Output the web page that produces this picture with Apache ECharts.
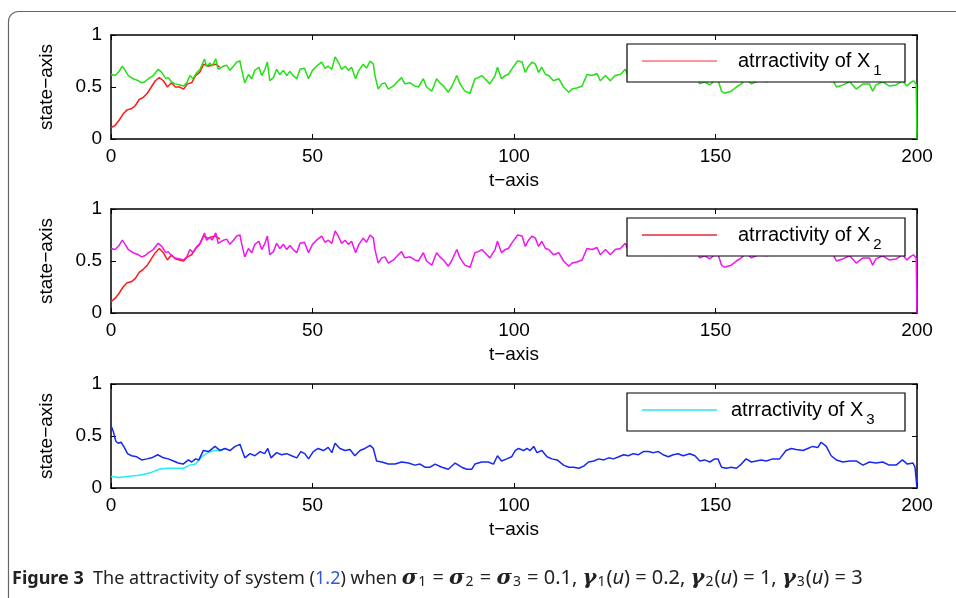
<!DOCTYPE html>
<html>
<head>
<meta charset="utf-8">
<script src="https://cdn.jsdelivr.net/npm/echarts@6/dist/echarts.min.js"></script>
<style>
html, body { margin: 0; padding: 0; background: #fff; }
#chart { width: 956px; height: 598px; }
</style>
</head>
<body>
<div id="chart"></div>
<script>
// axis ticks
var tTicks = [0, 50, 100, 150, 200];
var stateTicks = [0, 0.5, 1];

// red curve, panel 1 (t, state)
var red1 = [
  [0, 0.11], [1, 0.13], [2, 0.18], [3, 0.24], [4, 0.28], [5, 0.29], [6, 0.32], [7, 0.38],
  [8, 0.40], [9, 0.44], [10, 0.50], [11, 0.56], [12, 0.59], [13, 0.56], [14, 0.50], [15, 0.54],
  [16, 0.50], [17, 0.50], [18, 0.48], [19, 0.53], [20, 0.54], [21, 0.61], [22, 0.64], [23, 0.72],
  [24, 0.70], [25, 0.71], [26, 0.72], [27, 0.69]
];

// green curve, panel 1 (the same path is drawn in magenta in panel 2)
var green1 = [
  [0, 0.62], [1, 0.61], [2, 0.65], [2.8, 0.70], [3.5, 0.66], [4.3, 0.61], [5.5, 0.58], [6.8, 0.56],
  [7.6, 0.54], [8.4, 0.55], [9.3, 0.58], [10.5, 0.61], [11.7, 0.67], [12.6, 0.64], [13.6, 0.58],
  [14.2, 0.59], [15, 0.55], [15.9, 0.53], [17.1, 0.52], [18, 0.51], [18.8, 0.54], [19.6, 0.61],
  [20.4, 0.58], [21.3, 0.64], [22.1, 0.67], [23.2, 0.77], [23.7, 0.70], [24.6, 0.73], [25.1, 0.70],
  [26, 0.77], [26.6, 0.67], [27.9, 0.70], [28.7, 0.71], [29.5, 0.66], [30.4, 0.70], [31.2, 0.74],
  [32, 0.75], [32.4, 0.67], [33.2, 0.54], [34.1, 0.62], [34.9, 0.58], [35.7, 0.66], [36.7, 0.69],
  [37.4, 0.61], [38.2, 0.67], [38.8, 0.74], [39.4, 0.56], [40.3, 0.59], [41.1, 0.67], [41.9, 0.62],
  [42.8, 0.66], [43.6, 0.61], [44.4, 0.65], [45.2, 0.61], [46.1, 0.58], [46.9, 0.67], [48, 0.68],
  [49, 0.58], [50, 0.66], [51, 0.70], [52.3, 0.74], [53.1, 0.68], [53.9, 0.70], [54.8, 0.67],
  [55.6, 0.79], [56.4, 0.74], [57.2, 0.67], [58.1, 0.70], [58.9, 0.66], [59.7, 0.69], [60.7, 0.58],
  [61.5, 0.66], [62.6, 0.72], [63.4, 0.68], [64.3, 0.75], [65.1, 0.72], [65.5, 0.61], [66.3, 0.48],
  [67.2, 0.53], [68, 0.54], [68.8, 0.48], [70.1, 0.51], [71.3, 0.56], [72.1, 0.59], [72.9, 0.53],
  [74.2, 0.54], [75.4, 0.51], [76.3, 0.50], [77.5, 0.58], [78.3, 0.50], [79.6, 0.46], [80.8, 0.58],
  [81.6, 0.54], [82.5, 0.51], [83.7, 0.45], [84.5, 0.50], [85.8, 0.61], [86.6, 0.53], [87.8, 0.46],
  [89.1, 0.44], [90.3, 0.58], [91.1, 0.59], [92, 0.61], [92.8, 0.58], [94, 0.53], [95.3, 0.61],
  [95.9, 0.69], [96.9, 0.58], [97.8, 0.61], [98.6, 0.62], [99.4, 0.67], [100.9, 0.75], [102, 0.74],
  [102.8, 0.64], [103.6, 0.70], [104.5, 0.74], [105.3, 0.72], [106.1, 0.64], [106.9, 0.69],
  [107.8, 0.62], [108.6, 0.61], [109.8, 0.56], [111.1, 0.58], [112.3, 0.50], [113.6, 0.45],
  [114.4, 0.48], [115.6, 0.49], [116.9, 0.51], [118.1, 0.62], [119.4, 0.61], [120.6, 0.63],
  [121.4, 0.56], [122.7, 0.61], [123.9, 0.56], [125.1, 0.61], [126.4, 0.62], [127.6, 0.67],
  [128.4, 0.60], [129.6, 0.64], [130.9, 0.62], [132.1, 0.66], [133.3, 0.66], [134.6, 0.65],
  [135.8, 0.66], [137, 0.62], [138.3, 0.59], [138.8, 0.55], [139.5, 0.62], [140.7, 0.64],
  [142, 0.61], [143.6, 0.64], [144.9, 0.61], [146.1, 0.53], [147.3, 0.55], [148.6, 0.52],
  [149.8, 0.56], [150.6, 0.57], [151.5, 0.46], [152.2, 0.44], [153.9, 0.46], [155.2, 0.50],
  [156.4, 0.53], [157.6, 0.58], [158.9, 0.53], [160.1, 0.55], [161.3, 0.56], [162.6, 0.55],
  [164.2, 0.56], [165.9, 0.57], [167.5, 0.68], [168.8, 0.71], [170, 0.70], [171.7, 0.68],
  [172.9, 0.71], [174.1, 0.74], [175.4, 0.72], [176.2, 0.80], [177.5, 0.74], [178.7, 0.60],
  [180, 0.50], [181.6, 0.52], [183.3, 0.55], [184.9, 0.48], [186.6, 0.53], [188.2, 0.53],
  [189, 0.46], [189.8, 0.52], [191.5, 0.55], [193.1, 0.51], [194.8, 0.52], [196.4, 0.56],
  [197.5, 0.51], [198.3, 0.54], [199.1, 0.56], [199.8, 0.53], [200, 0]
];

// red curve, panel 2
var red2 = [
  [0, 0.11], [1, 0.14], [2, 0.19], [3, 0.25], [4, 0.29], [5, 0.30], [6, 0.33], [7, 0.39],
  [8, 0.42], [9, 0.46], [10, 0.52], [11, 0.58], [12, 0.62], [13, 0.58], [14, 0.51], [15, 0.56],
  [16, 0.52], [17, 0.51], [18, 0.50], [19, 0.54], [20, 0.56], [21, 0.62], [22, 0.66], [23, 0.74],
  [24, 0.72], [25, 0.73], [26, 0.74], [27, 0.71]
];

// magenta curve, panel 2: traces the same path as the green one
var magenta2 = green1;

// cyan curve, panel 3
var cyan3 = [
  [0, 0.11], [2, 0.10], [4, 0.11], [6.5, 0.12], [8, 0.13], [10, 0.15], [12, 0.18], [14, 0.19],
  [16, 0.19], [18, 0.19], [19.5, 0.22], [21, 0.23], [22.5, 0.30], [24, 0.34], [25.5, 0.36],
  [27, 0.36], [28.3, 0.38]
];

// blue curve, panel 3
var blue3 = [
  [0, 0.60], [0.6, 0.54], [1.2, 0.45], [1.8, 0.43], [2.5, 0.44], [3.3, 0.39], [4.1, 0.33],
  [5.1, 0.31], [6.4, 0.30], [7.6, 0.27], [8.9, 0.28], [10.1, 0.29], [11.6, 0.32], [13, 0.29],
  [14.2, 0.28], [15.5, 0.26], [16.7, 0.24], [17.9, 0.23], [19.2, 0.27], [20, 0.25], [21, 0.28],
  [21.8, 0.27], [22.9, 0.36], [24.2, 0.35], [25.8, 0.40], [27.1, 0.36], [28.3, 0.38], [29.5, 0.36],
  [30.8, 0.40], [32, 0.42], [33.2, 0.29], [34.5, 0.33], [35.7, 0.31], [37, 0.35], [38.1, 0.33],
  [38.9, 0.38], [39.7, 0.29], [41.1, 0.34], [42.3, 0.32], [43.6, 0.33], [44.8, 0.31], [46.1, 0.29],
  [47.1, 0.35], [48.1, 0.33], [49, 0.28], [50.2, 0.35], [51.4, 0.38], [52.7, 0.36], [53.9, 0.39],
  [54.8, 0.34], [55.6, 0.43], [56.8, 0.38], [58.1, 0.36], [59.3, 0.37], [60.5, 0.31], [61.8, 0.36],
  [63, 0.38], [64.3, 0.41], [65.1, 0.38], [65.9, 0.26], [67.2, 0.25], [68.8, 0.23], [70.5, 0.23],
  [72.1, 0.25], [73.8, 0.24], [75.4, 0.22], [76.7, 0.23], [77.9, 0.20], [79.2, 0.20], [80.4, 0.23],
  [82.1, 0.20], [83.7, 0.18], [85.4, 0.24], [87, 0.20], [88.3, 0.18], [89.5, 0.18], [90.3, 0.23],
  [92, 0.25], [93.6, 0.25], [94.9, 0.23], [95.9, 0.31], [96.9, 0.26], [98.2, 0.28], [99.4, 0.30],
  [100.3, 0.36], [101.1, 0.38], [102.4, 0.36], [103.2, 0.38], [104, 0.36], [104.9, 0.40],
  [105.7, 0.34], [106.9, 0.36], [108.2, 0.30], [109.4, 0.28], [110.7, 0.27], [112.3, 0.22],
  [113.6, 0.20], [114.8, 0.20], [116.1, 0.19], [117.3, 0.21], [118.5, 0.25], [119.8, 0.26],
  [121, 0.28], [122.3, 0.27], [123.5, 0.29], [124.7, 0.28], [126, 0.30], [127.2, 0.32],
  [128.4, 0.31], [129.6, 0.33], [130.9, 0.32], [132.1, 0.35], [133.3, 0.35], [134.6, 0.34],
  [135.8, 0.35], [137, 0.32], [138.3, 0.30], [139.5, 0.32], [140.7, 0.33], [142, 0.31],
  [143.6, 0.33], [144.9, 0.31], [146.1, 0.26], [147.3, 0.27], [148.6, 0.25], [149.8, 0.28],
  [150.6, 0.28], [151.5, 0.20], [152.7, 0.19], [153.9, 0.20], [155.2, 0.19], [156.4, 0.23],
  [157.6, 0.28], [158.9, 0.25], [160.1, 0.26], [161.3, 0.27], [162.6, 0.26], [164.2, 0.28],
  [165.9, 0.28], [167.5, 0.36], [168.8, 0.38], [170, 0.37], [171.7, 0.36], [172.9, 0.38],
  [174.1, 0.40], [175.4, 0.39], [176.2, 0.44], [177.5, 0.40], [178.7, 0.31], [180, 0.27],
  [181.6, 0.25], [183.3, 0.26], [184.9, 0.26], [186.6, 0.22], [188.2, 0.25], [189.8, 0.24],
  [191.5, 0.25], [193.1, 0.22], [194.8, 0.22], [196.4, 0.27], [197.6, 0.23], [199, 0.24],
  [199.5, 0.20], [200, 0]
];

var chart = echarts.init(document.getElementById('chart'), null, { renderer: 'canvas' });

var FONT = '"Liberation Sans", Arial, sans-serif';
var CAP_FONT = '"Noto Sans", sans-serif';
var panelTops = [35, 209, 384];
var PLOT_LEFT = 111, PLOT_W = 806, PLOT_H = 104;

var grids = [], xAxes = [], yAxes = [], legends = [], graphics = [];

panelTops.forEach(function (top, i) {
  grids.push({ left: PLOT_LEFT, top: top, width: PLOT_W, height: PLOT_H });

  // bottom axis with labels, top axis only for the inner ticks
  ['bottom', 'top'].forEach(function (pos) {
    xAxes.push({
      gridIndex: i,
      type: 'value',
      position: pos,
      min: tTicks[0],
      max: tTicks[tTicks.length - 1],
      interval: 50,
      name: pos === 'bottom' ? 't\u2212axis' : '',
      nameLocation: 'middle',
      nameGap: 32,
      nameTextStyle: { color: '#000', fontSize: 19, fontFamily: FONT },
      axisLine: { show: true, onZero: false, lineStyle: { color: '#000', width: 1.5 } },
      axisTick: { show: true, inside: true, length: 5, lineStyle: { color: '#000', width: 1 } },
      axisLabel: { show: pos === 'bottom', color: '#000', fontSize: 19, fontFamily: FONT, margin: 8 },
      splitLine: { show: false }
    });
  });

  ['left', 'right'].forEach(function (pos) {
    yAxes.push({
      gridIndex: i,
      type: 'value',
      position: pos,
      min: stateTicks[0],
      max: stateTicks[stateTicks.length - 1],
      interval: 0.5,
      name: pos === 'left' ? 'state\u2212axis' : '',
      nameLocation: 'middle',
      nameGap: 55,
      nameRotate: 90,
      nameTextStyle: { color: '#000', fontSize: 19, fontFamily: FONT },
      axisLine: { show: true, onZero: false, lineStyle: { color: '#000', width: 1.5 } },
      axisTick: { show: true, inside: true, length: 5, lineStyle: { color: '#000', width: 1 } },
      axisLabel: { show: pos === 'left', color: '#000', fontSize: 19, fontFamily: FONT, margin: 9 },
      splitLine: { show: false }
    });
  });

  // legend box (white, covers the curves like the original)
  graphics.push({
    type: 'rect',
    zlevel: 1,
    shape: { x: 627, y: top + 9, width: 278, height: 38 },
    style: { fill: '#fff', stroke: '#000', lineWidth: 1.2 }
  });
});

var legendColors = ['#f47474', '#e8283c', '#22e6f2'];
var legendTextGap = [16, 16, 9];
['X1', 'X2', 'X3'].forEach(function (name, i) {
  legends.push({
    zlevel: 2,
    left: 642,
    top: panelTops[i] + 16,
    padding: 0,
    icon: 'rect',
    itemWidth: 75,
    itemHeight: 1.5,
    data: [{ name: name, itemStyle: { color: legendColors[i] } }],
    formatter: function (n) { return '{a|atrractivity of X}{s|' + n.slice(1) + '}'; },
    textStyle: {
      color: '#000',
      fontFamily: FONT,
      rich: {
        a: { fontSize: 20, color: '#000', fontFamily: FONT, padding: [0, 0, 0, legendTextGap[i]] },
        s: { fontSize: 15, color: '#000', fontFamily: FONT, padding: [20, 0, 0, 3] }
      }
    },
    selectedMode: false
  });
});

function line(name, data, color, idx) {
  return {
    name: name,
    type: 'line',
    xAxisIndex: idx * 2,
    yAxisIndex: idx * 2,
    data: data,
    symbol: 'none',
    lineStyle: { color: color, width: 1.5 },
    itemStyle: { color: color },
    animation: false
  };
}

// frame around the figure
graphics.push({
  type: 'rect',
  zlevel: 1,
  shape: { x: 8.5, y: 11.5, width: 1200, height: 900, r: 10 },
  style: { fill: 'none', stroke: '#666', lineWidth: 1.2 }
});

// caption
graphics.push({
  type: 'text',
  zlevel: 1,
  left: 12,
  top: 568,
  style: {
    text: '{b|Figure 3}  The attractivity of system ({l|1.2}) when {g|\u03c3}{sub|1}{m| = }{g|\u03c3}{sub|2}{m| = }{g|\u03c3}{sub|3}{m| = 0.1, }' +
      '{g|\u03b3}{sub|1}{m|(}{i|u}{m|) = 0.2, }{g|\u03b3}{sub|2}{m|(}{i|u}{m|) = 1, }{g|\u03b3}{sub|3}{m|(}{i|u}{m|) = 3}',
    fontSize: 18,
    fontFamily: CAP_FONT,
    fill: '#222',
    rich: {
      b: { fontSize: 18, fontWeight: 'bold', fontFamily: CAP_FONT, fill: '#222' },
      l: { fontSize: 18, fontFamily: CAP_FONT, fill: '#2b5bd7' },
      m: { fontSize: 20, fontFamily: CAP_FONT, fill: '#222' },
      g: { fontSize: 21, fontStyle: 'italic', fontWeight: 'bold', fontFamily: '"DejaVu Serif", serif', fill: '#222' },
      i: { fontSize: 20, fontStyle: 'italic', fontFamily: CAP_FONT, fill: '#222' },
      sub: { fontSize: 14, fontFamily: CAP_FONT, fill: '#222', padding: [8, 1, 0, 1] }
    }
  }
});

chart.setOption({
  backgroundColor: '#fff',
  animation: false,
  grid: grids,
  xAxis: xAxes,
  yAxis: yAxes,
  legend: legends,
  // graphic layer drawn on its own canvas layer above the series
  graphic: { zlevel: 1, elements: graphics },
  series: [
    line('X1', red1, '#ff1a1a', 0),
    line('Green1', green1, '#22e012', 0),
    line('X2', red2, '#ff1a1a', 1),
    line('Magenta2', magenta2, '#f014f0', 1),
    line('X3', cyan3, '#1ef0f5', 2),
    line('Blue3', blue3, '#1628f2', 2)
  ]
});
</script>
</body>
</html>
